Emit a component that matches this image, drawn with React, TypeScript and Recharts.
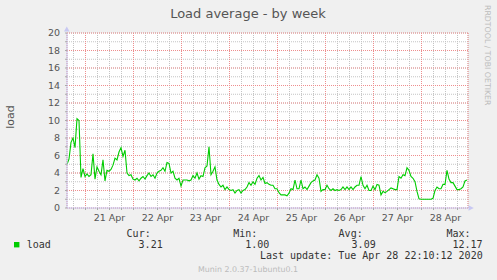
import { LineChart, Line, XAxis, YAxis, CartesianGrid } from "recharts";

document.body.style.margin = "0";

// hours relative to 21 Apr 00:00, one sample per hour
const START_HOUR = -9.25;
const loadValues = [
  5.0, 5.6, 7.5, 8.0, 6.9, 10.2, 10.0, 3.5, 4.5, 3.6, 3.9, 3.6, 3.8, 6.2, 3.3, 4.7, 4.2, 3.8, 5.5, 3.1,
  4.3, 4.2, 4.4, 4.9, 5.7, 5.5, 6.4, 6.9, 5.9, 6.6, 4.0, 3.7, 3.8, 3.3, 3.2, 3.4, 3.1, 3.4, 3.6, 3.3,
  3.7, 4.0, 3.6, 3.8, 3.4, 4.0, 4.2, 4.3, 4.6, 4.2, 5.2, 5.1, 4.0, 4.2, 3.4, 3.2, 3.4, 2.5, 3.2, 3.2,
  3.2, 3.1, 3.2, 3.7, 3.4, 4.0, 3.3, 3.7, 3.6, 4.6, 4.8, 7.0, 3.8, 4.2, 4.7, 3.2, 2.7, 2.4, 2.6, 2.1,
  2.4, 2.1, 2.0, 2.1, 1.7, 2.0, 2.1, 1.7, 2.0, 2.1, 2.4, 2.9, 2.6, 3.0, 2.7, 3.4, 3.7, 3.2, 3.5, 2.8,
  2.9, 2.7, 2.6, 2.6, 2.2, 2.2, 1.75, 1.5, 1.5, 1.5, 1.4, 1.7, 2.2, 2.1, 3.2, 2.2, 2.2, 3.2, 2.2, 2.4,
  2.1, 2.5, 2.9, 3.1, 3.2, 3.8, 3.4, 1.9, 2.1, 2.1, 2.6, 2.2, 2.0, 2.2, 2.0, 2.1, 2.0, 2.1, 2.4, 2.1,
  2.4, 2.1, 2.4, 2.1, 2.4, 2.6, 2.6, 3.6, 2.6, 2.2, 2.6, 2.0, 2.0, 2.5, 2.1, 2.7, 2.6, 1.5, 1.9, 1.75,
  1.9, 2.1, 2.3, 2.2, 2.1, 2.1, 3.6, 3.4, 3.8, 3.7, 4.6, 4.3, 3.6, 3.4, 3.0, 1.9, 1.05, 1.0, 1.0, 1.0,
  1.0, 1.0, 1.0, 1.1, 2.0, 2.4, 2.2, 2.2, 2.7, 2.7, 4.3, 3.3, 2.9, 2.9, 2.5, 2.1, 2.1, 2.2, 2.4, 3.1,
  3.2,
];

const dayLabels = ["21 Apr", "22 Apr", "23 Apr", "24 Apr", "25 Apr", "26 Apr", "27 Apr", "28 Apr"];
const yTicks = [0, 2, 4, 6, 8, 10, 12, 14, 16, 18, 20];

const legendHeads = ["Cur:", "Min:", "Avg:", "Max:"];
const legendValues = ["3.21", "1.00", "3.09", "12.17"];

const data = loadValues.map((v, i) => ({ t: START_HOUR + i, load: v }));

const X_DOMAIN = [START_HOUR, START_HOUR + 200.5];
const dayStarts = dayLabels.map((_, i) => i * 24);
const dayMiddles = dayLabels.map((_, i) => i * 24 + 12);
const sixHours: number[] = [];
for (let t = -6; t < 192; t += 6) sixHours.push(t);
const allY: number[] = [];
for (let v = 0; v <= 20; v++) allY.push(v);

const AXIS = "#c8c8f2";
const MINOR = "#c4c4c4";
const MAJOR = "#ee8e8e";
const TEXT = "#555";
const MONO = "'DejaVu Sans Mono', monospace";
const SANS = "'DejaVu Sans', sans-serif";

const xLabel = (t: number) => {
  const i = dayMiddles.indexOf(t);
  return i >= 0 ? dayLabels[i] : "";
};

const legendRight = [150.7, 257.3, 362.7, 470.5];
const valueRight = [162.7, 269.3, 375.7, 482.5];

export default function App() {
  return (
    <div style={{ position: "relative", width: 497, height: 280, background: "#f0f0f0" }}>
      {/* plot canvas */}
      <div style={{ position: "absolute", left: 67, top: 33, width: 401, height: 175, background: "#fff" }} />
      <LineChart
        width={497}
        height={280}
        data={data}
        margin={{ top: 33, right: 29, left: 37, bottom: 52 }}
      >
        <CartesianGrid stroke={MINOR} strokeDasharray="1 1" />
        <CartesianGrid xAxisId="major" yAxisId="major" stroke={MAJOR} strokeDasharray="1 1" />
        <XAxis
          dataKey="t"
          type="number"
          domain={X_DOMAIN}
          allowDataOverflow
          ticks={sixHours}
          interval={0}
          tickFormatter={xLabel}
          height={20}
          tickSize={2}
          tickMargin={4}
          tickLine={{ stroke: "#aaaaaa" }}
          axisLine={{ stroke: AXIS }}
          tick={{ fill: TEXT, fontSize: 9.5, fontFamily: SANS }}
        />
        <XAxis
          xAxisId="major"
          dataKey="t"
          type="number"
          domain={X_DOMAIN}
          allowDataOverflow
          ticks={dayStarts}
          interval={0}
          hide
        />
        <YAxis
          type="number"
          domain={[0, 20]}
          allowDataOverflow
          ticks={allY}
          interval={0}
          tickFormatter={(v: number) => (v % 2 === 0 ? String(v) : "")}
          width={30}
          tickSize={2}
          tickMargin={5}
          tickLine={{ stroke: "#aaaaaa" }}
          axisLine={{ stroke: AXIS }}
          tick={{ fill: TEXT, fontSize: 9.5, fontFamily: SANS }}
        />
        <YAxis yAxisId="major" type="number" domain={[0, 20]} allowDataOverflow ticks={yTicks} interval={0} hide />
        <Line
          type="linear"
          dataKey="load"
          stroke="#00cc00"
          strokeWidth={1.1}
          dot={false}
          isAnimationActive={false}
        />
      </LineChart>

      <svg
        width={497}
        height={280}
        style={{ position: "absolute", left: 0, top: 0, pointerEvents: "none" }}
      >
        {/* axis arrows */}
        <polygon points="66.8,26.5 64,31.5 69.6,31.5" fill={AXIS} />
        <polygon points="473.8,208 468.5,205.2 468.5,210.8" fill={AXIS} />

        <text x={248} y={18.3} textAnchor="middle" fontFamily={SANS} fontSize={13} fill={TEXT}>
          Load average - by week
        </text>
        <text
          transform="translate(13.5,117) rotate(-90)"
          textAnchor="middle"
          fontFamily={SANS}
          fontSize={11}
          fill={TEXT}
        >
          load
        </text>
        <text
          transform="translate(485,5) rotate(90)"
          fontFamily={SANS}
          fontSize={7.8}
          fill="#bcbcbc"
        >
          RRDTOOL / TOBI OETIKER
        </text>

        {legendHeads.map((h, i) => (
          <text key={h} x={legendRight[i]} y={236.5} textAnchor="end" fontFamily={MONO} fontSize={10} fill="#333">
            {h}
          </text>
        ))}
        <rect x={14} y={242} width={5.4} height={5.4} fill="#00cc00" />
        <text x={26.7} y={247.5} fontFamily={MONO} fontSize={10} fill="#333">
          load
        </text>
        {legendValues.map((v, i) => (
          <text key={i} x={valueRight[i]} y={247.5} textAnchor="end" fontFamily={MONO} fontSize={10} fill="#333">
            {v}
          </text>
        ))}
        <text x={482.7} y={259.2} textAnchor="end" fontFamily={MONO} fontSize={10} fill="#333">
          Last update: Tue Apr 28 22:10:12 2020
        </text>
        <text x={248} y={272} textAnchor="middle" fontFamily={SANS} fontSize={7.9} fill="#bbbbbb">
          Munin 2.0.37-1ubuntu0.1
        </text>
      </svg>
    </div>
  );
}
